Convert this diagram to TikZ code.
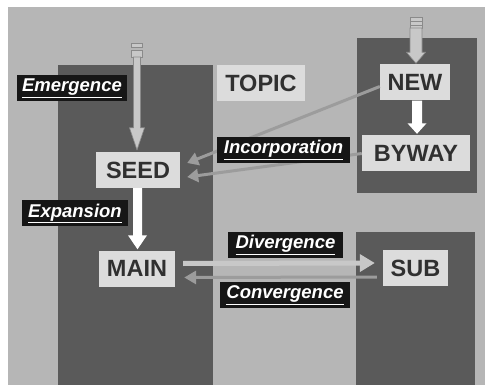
\documentclass[tikz,border=0pt]{standalone}
\usepackage{fontspec}
\setmainfont{Liberation Sans}
\usetikzlibrary{arrows.meta,calc}
\definecolor{bg}{HTML}{B6B6B6}
\definecolor{dark}{HTML}{5A5A5A}
\definecolor{boxc}{HTML}{DCDCDC}
\definecolor{txt}{HTML}{303030}
\definecolor{lab}{HTML}{161616}
\definecolor{arr}{HTML}{C8C8C8}
\definecolor{arrline}{HTML}{8A8A8A}
\definecolor{incl}{HTML}{9C9C9C}
\begin{document}
\begin{tikzpicture}[x=1pt,y=-1pt,
  term/.style={fill=boxc, text=txt, font=\fontsize{23.5}{23.5}\selectfont\bfseries, minimum width=#1, minimum height=36pt, inner sep=0pt},
  lbl/.style={fill=lab, text=white, font=\fontsize{18.5}{18.5}\selectfont\bfseries\itshape, minimum width=#1, minimum height=26pt, inner sep=0pt},
  panel/.style={fill=dark},
  grayarrow/.style={fill=arr, draw=arrline, line width=0.6pt},
  whitearrow/.style={fill=white},
  incarrow/.style={draw=incl, line width=3pt, -{Triangle[length=11pt,width=13pt]}},
]
\useasboundingbox (0,0) rectangle (485,385);
\fill[white] (0,0) rectangle (485,385);
\fill[bg] (8,7) rectangle (485,385);
% panels
\fill[panel] (58,65) rectangle (213,385);
\fill[panel] (357,38) rectangle (477,193);
\fill[panel] (356,232) rectangle (475,385);

% nodes
\node[term=88pt]  (topic) at (261,83)    {TOPIC};
\node[term=70pt]  (new)   at (415,82.5)  {NEW};
\node[term=108pt] (byway) at (416,153.5) {BYWAY};
\node[term=84pt]  (seed)  at (138,170)   {SEED};
\node[term=76pt]  (main)  at (137,268.5) {MAIN};
\node[term=65pt]  (sub)   at (415.5,268) {SUB};

% incorporation connectors (behind label)
\draw[incarrow] ($(new.west)+(0,4)$) -- ($(seed.east)+(7,-7)$);
\draw[incarrow] (byway.west) -- ($(seed.east)+(7,7)$);

% divergence / convergence
\draw[draw=arr, line width=5pt, -{Triangle[length=15pt,width=17pt]}] ($(main.east)+(8,-5)$) -- ($(sub.west)+(-8,-5)$);
\draw[draw=incl, line width=3pt, -{Triangle[length=12pt,width=13pt]}] ($(sub.west)+(-6,9)$) -- ($(main.east)+(9,9)$);

% emergence arrow
\coordinate (em0) at (137,57);
\coordinate (em1) at (em0|-seed.north);
\draw[grayarrow] (131.5,50) rectangle (142.5,57);
\draw[grayarrow] (131.5,43) rectangle (142.5,47);
\filldraw[grayarrow] ($(em0)+(-3.5,0)$) -- ($(em1)+(-3.5,-24)$) -- ($(em1)+(-7.5,-24)$) -- ($(em1)+(0,-2)$)
  -- ($(em1)+(7.5,-24)$) -- ($(em1)+(3.5,-24)$) -- ($(em0)+(3.5,0)$) -- cycle;

% new arrow
\coordinate (nw0) at (416,28);
\coordinate (nw1) at (nw0|-new.north);
\draw[grayarrow] (410,17) rectangle (422,28);
\draw[arrline, line width=0.6pt] (410,21) -- (422,21) (410,25) -- (422,25);
\filldraw[grayarrow] ($(nw0)+(-6,0)$) -- ($(nw1)+(-6,-12)$) -- ($(nw1)+(-9.5,-12)$) -- ($(nw1)+(0,-1)$)
  -- ($(nw1)+(9.5,-12)$) -- ($(nw1)+(6,-12)$) -- ($(nw0)+(6,0)$) -- cycle;

% white arrows
\coordinate (sm0) at (137.5,0 |- seed.south);
\coordinate (sm1) at (137.5,0 |- main.north);
\fill[whitearrow] ($(sm0)+(-4.5,0)$) -- ($(sm1)+(-4.5,-15)$) -- ($(sm1)+(-9.5,-15)$) -- ($(sm1)+(0,-1)$)
  -- ($(sm1)+(9.5,-15)$) -- ($(sm1)+(4.5,-15)$) -- ($(sm0)+(4.5,0)$) -- cycle;
\coordinate (nb0) at (417,0 |- new.south);
\coordinate (nb1) at (417,0 |- byway.north);
\fill[whitearrow] ($(nb0)+(-5,0)$) -- ($(nb1)+(-5,-12)$) -- ($(nb1)+(-9.5,-12)$) -- ($(nb1)+(0,-1.5)$)
  -- ($(nb1)+(9.5,-12)$) -- ($(nb1)+(5,-12)$) -- ($(nb0)+(5,0)$) -- cycle;

% labels
\node[lbl=110pt] (lemerg) at (72,88.5)   {\underline{Emergence}};
\node[lbl=133pt] (lincor) at (283.5,150) {\underline{Incorporation}};
\node[lbl=106pt] (lexpan) at (75,213.5)  {\underline{Expansion}};
\node[lbl=115pt] (ldiver) at (285.5,245) {\underline{Divergence}};
\node[lbl=130pt] (lconv)  at (285,295)   {\underline{Convergence}};
\end{tikzpicture}
\end{document}
